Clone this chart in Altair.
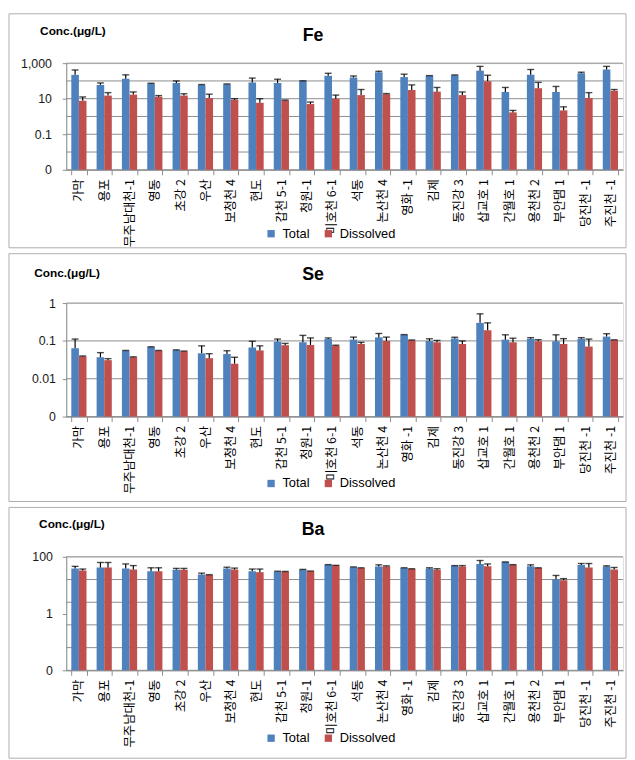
import altair as alt
import pandas as pd

cats = ["가막", "용포", "무주남대천-1", "영동", "초강 2", "우산", "보청천 4", "현도", "갑천 5-1", "청원-1",
        "미호천 6-1", "석동", "논산천 4", "영화 -1", "김제", "동진강 3", "삽교호 1", "간월호 1", "용천천 2",
        "부안댐 1", "당진천 -1", "주진천 -1"]
series = ["Total", "Dissolved"]

# Fe (value, upper end of error bar)
fe_total    = [220, 60, 133, 71, 77, 60, 65, 83, 77, 100, 195, 158, 308, 165, 195, 212, 380, 24, 220, 24, 272, 434]
fe_total_hi = [415, 77, 220, 74, 100, 63, 68, 145, 125, 102, 270, 190, 350, 240, 200, 218, 660, 43, 440, 49, 310, 660]
fe_diss     = [7.6, 15, 17, 13, 15, 11, 8.6, 5.9, 8, 5, 10, 16, 18, 31, 25, 16, 95, 1.7, 39, 2.2, 11, 28]
fe_diss_hi  = [12.6, 22, 24, 15, 19, 18, 10, 10, 8.4, 6.5, 16, 33, 19.5, 60, 43, 24, 210, 2.2, 83, 3.5, 22, 33]

# Se
se_total    = [0.064, 0.037, 0.055, 0.069, 0.057, 0.047, 0.045, 0.067, 0.096, 0.092, 0.112, 0.108, 0.124, 0.145,
               0.100, 0.116, 0.30, 0.108, 0.114, 0.098, 0.114, 0.13]
se_total_hi = [0.112, 0.049, 0.056, 0.070, 0.058, 0.074, 0.055, 0.098, 0.112, 0.14, 0.12, 0.126, 0.157, 0.147,
               0.114, 0.125, 0.52, 0.145, 0.122, 0.145, 0.122, 0.155]
se_diss     = [0.039, 0.031, 0.037, 0.055, 0.053, 0.035, 0.025, 0.056, 0.077, 0.078, 0.075, 0.083, 0.100, 0.103,
               0.092, 0.083, 0.19, 0.092, 0.098, 0.083, 0.071, 0.105]
se_diss_hi  = [0.040, 0.034, 0.038, 0.056, 0.054, 0.046, 0.037, 0.074, 0.086, 0.12, 0.077, 0.092, 0.126, 0.106,
               0.103, 0.100, 0.30, 0.118, 0.108, 0.115, 0.112, 0.107]

# Ba
ba_total    = [38.6, 42, 38.6, 31, 35, 23.7, 38.6, 31, 30, 35, 52, 43, 45.5, 40, 38.6, 48, 56, 65, 46.8, 16.2, 51, 45.5]
ba_total_hi = [46, 63, 56, 41, 39, 26.5, 43, 37, 31, 36, 53, 44, 52, 41, 41, 49, 74, 66, 52, 22, 58, 48]
ba_diss     = [32.8, 42, 35.6, 31, 35, 23, 35.6, 28.7, 30, 31, 49, 40, 45.5, 37.5, 35, 45.5, 46.8, 52, 40, 15, 42, 35.6]
ba_diss_hi  = [37, 63, 49, 41, 39, 23.5, 40, 37, 30.5, 31.5, 50, 41, 48, 38, 38, 49, 56, 53, 41, 17, 58, 42]

fe_grid = [0.001, 0.01, 0.1, 1, 10, 100, 1000]
fe_labels = [0.001, 0.1, 10, 1000]
se_grid = [0.001, 0.01, 0.1, 1]
se_labels = [0.001, 0.01, 0.1, 1]
ba_grid = [0.01, 0.063, 0.4, 2.5, 15.8, 100]
ba_labels = [0.01, 1, 100]

BLUE = "#4F81BD"
RED = "#C0504D"
GRID = "#8C8C8C"
BORDER = "#ADADAD"
KFONT = "Noto Sans CJK KR"
LFONT = "Liberation Sans"

L, W, R, T = 58, 564, 3, 50


def long_df(total, total_hi, diss, diss_hi):
    rows = []
    for i, c in enumerate(cats):
        rows.append(dict(site=c, series="Total", value=total[i], hi=total_hi[i]))
        rows.append(dict(site=c, series="Dissolved", value=diss[i], hi=diss_hi[i]))
    return pd.DataFrame(rows)


def panel(name, df, domain, grid_vals, label_vals, H, B,
          title_y, conc_x, conc_y, leg_y, label_pad):
    one = pd.DataFrame({"k": [0]})
    yscale = alt.Scale(type="log", domain=domain, nice=False)
    yaxis = alt.Axis(
        values=label_vals,
        labelExpr=f"datum.value <= {domain[0] * 1.001} ? '0' : format(datum.value, ',')",
        grid=False, tickSize=4, tickColor=GRID, domainColor=GRID,
        labelFont=LFONT, labelFontSize=12.5, labelColor="#1a1a1a", labelPadding=label_pad,
        title="Conc.(μg/L)", titleAngle=0, titleX=conc_x, titleY=conc_y,
        titleAlign="left", titleBaseline="middle", titleFont=LFONT,
        titleFontSize=12, titleFontWeight="bold", titleColor="black",
    )
    xaxis = alt.Axis(
        title=None, labelAngle=-90, labelAlign="right", labelBaseline="middle",
        labelFont=KFONT, labelFontSize=12.5, labelColor="black", labelPadding=4,
        tickBand="extent", tickSize=5, tickColor=GRID, domainColor=GRID, grid=False,
        labelLimit=200,
    )
    xenc = alt.X("site:N", sort=cats,
                 scale=alt.Scale(domain=cats, paddingInner=0.4, paddingOuter=0.2), axis=xaxis)
    xoff = alt.XOffset("series:N", sort=series,
                       scale=alt.Scale(domain=series, paddingInner=0, paddingOuter=0))

    border = alt.Chart(one).mark_rect(fillOpacity=0, stroke=BORDER, strokeWidth=1).encode(
        x=alt.value(-L), x2=alt.value(W + R), y=alt.value(-T), y2=alt.value(H + B))

    grid = alt.Chart(pd.DataFrame({"g": grid_vals})).mark_rule(color=GRID, strokeWidth=1).encode(
        y=alt.Y("g:Q", scale=yscale, axis=yaxis), x=alt.value(0), x2=alt.value(W))

    bars = alt.Chart(df).mark_bar().encode(
        x=xenc, xOffset=xoff,
        y=alt.Y("value:Q", scale=yscale, axis=yaxis),
        y2=alt.datum(domain[0]),
        color=alt.Color("series:N", sort=series,
                        scale=alt.Scale(domain=series, range=[BLUE, RED]),
                        legend=alt.Legend(orient="none", legendX=201, legendY=leg_y,
                                          direction="horizontal", title=None,
                                          symbolType="square", symbolSize=55,
                                          symbolStrokeWidth=0, labelFont=LFONT,
                                          labelFontSize=13, labelColor="black",
                                          labelOffset=5, columnPadding=12, padding=0)),
    )

    err = alt.Chart(df).mark_rule(color="black", strokeWidth=1.2).encode(
        x=xenc, xOffset=xoff,
        y=alt.Y("value:Q", scale=yscale, axis=yaxis), y2="hi:Q")

    cap = alt.Chart(df).mark_tick(color="black", thickness=1.4, size=7, orient="horizontal").encode(
        x=xenc, xOffset=xoff,
        y=alt.Y("hi:Q", scale=yscale, axis=yaxis))

    title = alt.Chart(one).mark_text(font=LFONT, fontSize=18, fontWeight="bold", color="black",
                                     align="center", baseline="middle").encode(
        x=alt.value(250), y=alt.value(title_y), text=alt.value(name))

    return alt.layer(border, grid, bars, err, cap, title).properties(width=W, height=H)


p_fe = panel("Fe", long_df(fe_total, fe_total_hi, fe_diss, fe_diss_hi), [0.001, 1000], fe_grid, fe_labels,
             H=108, B=79, title_y=-27, conc_x=-27, conc_y=-33, leg_y=166, label_pad=11)
p_se = panel("Se", long_df(se_total, se_total_hi, se_diss, se_diss_hi), [0.001, 1], se_grid, se_labels,
             H=115, B=86, title_y=-28, conc_x=-33, conc_y=-31, leg_y=176, label_pad=7)
p_ba = panel("Ba", long_df(ba_total, ba_total_hi, ba_diss, ba_diss_hi), [0.01, 100], ba_grid, ba_labels,
             H=115, B=89, title_y=-27, conc_x=-28, conc_y=-34, leg_y=177, label_pad=10)

chart = alt.concat(p_fe, p_se, p_ba, columns=1, spacing=4).resolve_scale(
    x="independent", y="independent", xOffset="independent", color="independent"
).resolve_legend(color="independent").resolve_axis(x="independent", y="independent").properties(
    padding=0).configure_view(stroke=None).configure(background="white")

chart.save("out.html", embed_options={"renderer": "svg", "actions": False})
